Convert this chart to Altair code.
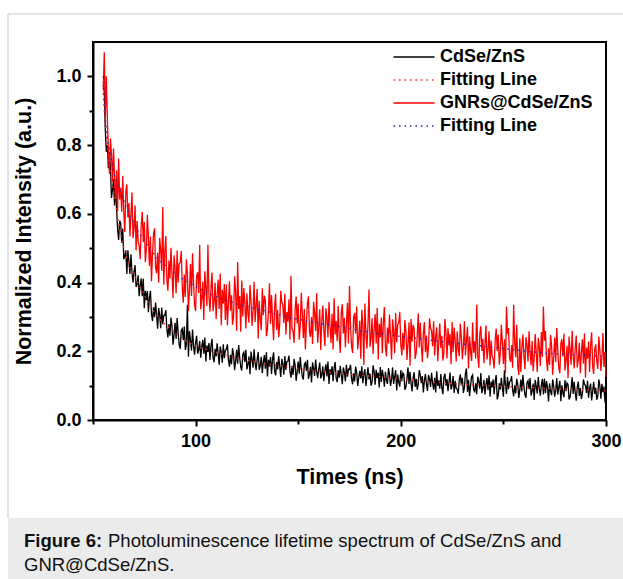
import altair as alt
import pandas as pd

# ---------------- data ----------------
times = [55 + 0.5 * i for i in range(491)]   # ns, sampled every 0.5 ns

cdse_zns = [
    0.975, 0.955, 0.842, 0.78, 0.799, 0.733, 0.78, 0.733, 0.646, 0.669,
    0.701, 0.624, 0.686, 0.613, 0.554, 0.524, 0.58, 0.572, 0.516, 0.557,
    0.468, 0.476, 0.494, 0.425, 0.494, 0.461, 0.425, 0.482, 0.43, 0.40,
    0.432, 0.451, 0.387, 0.395, 0.421, 0.36, 0.392, 0.412, 0.36, 0.411,
    0.325, 0.376, 0.349, 0.375, 0.314, 0.357, 0.376, 0.308, 0.288, 0.328,
    0.299, 0.342, 0.304, 0.266, 0.326, 0.305, 0.267, 0.327, 0.279, 0.304,
    0.305, 0.32, 0.264, 0.24, 0.279, 0.245, 0.298, 0.274, 0.219, 0.248,
    0.283, 0.236, 0.297, 0.253, 0.219, 0.207, 0.261, 0.266, 0.232, 0.272,
    0.204, 0.219, 0.335, 0.184, 0.259, 0.232, 0.202, 0.263, 0.216, 0.19,
    0.225, 0.245, 0.193, 0.204, 0.23, 0.181, 0.213, 0.233, 0.193, 0.24,
    0.17, 0.217, 0.198, 0.224, 0.175, 0.216, 0.236, 0.181, 0.168, 0.207,
    0.185, 0.223, 0.192, 0.161, 0.214, 0.198, 0.167, 0.22, 0.18, 0.203,
    0.206, 0.22, 0.174, 0.155, 0.19, 0.162, 0.209, 0.19, 0.145, 0.171,
    0.204, 0.164, 0.218, 0.181, 0.154, 0.144, 0.191, 0.197, 0.169, 0.204,
    0.147, 0.161, 0.185, 0.133, 0.199, 0.177, 0.152, 0.206, 0.166, 0.145,
    0.177, 0.198, 0.146, 0.158, 0.184, 0.136, 0.168, 0.189, 0.149, 0.197,
    0.127, 0.175, 0.156, 0.183, 0.134, 0.176, 0.197, 0.143, 0.13, 0.169,
    0.147, 0.186, 0.155, 0.125, 0.178, 0.163, 0.132, 0.186, 0.146, 0.17,
    0.172, 0.187, 0.141, 0.123, 0.158, 0.131, 0.178, 0.16, 0.114, 0.141,
    0.17, 0.135, 0.183, 0.151, 0.126, 0.118, 0.162, 0.167, 0.143, 0.175,
    0.12, 0.133, 0.155, 0.109, 0.168, 0.149, 0.128, 0.176, 0.141, 0.122,
    0.148, 0.167, 0.121, 0.132, 0.156, 0.113, 0.143, 0.162, 0.127, 0.17,
    0.105, 0.148, 0.132, 0.156, 0.113, 0.151, 0.169, 0.121, 0.11, 0.145,
    0.123, 0.158, 0.131, 0.104, 0.153, 0.139, 0.112, 0.161, 0.126, 0.148,
    0.147, 0.161, 0.12, 0.104, 0.136, 0.112, 0.155, 0.139, 0.099, 0.123,
    0.143, 0.121, 0.156, 0.107, 0.134, 0.148, 0.099, 0.126, 0.153, 0.118,
    0.135, 0.10, 0.111, 0.159, 0.141, 0.103, 0.146, 0.122, 0.138, 0.095,
    0.154, 0.111, 0.146, 0.127, 0.097, 0.14, 0.116, 0.105, 0.151, 0.132,
    0.099, 0.118, 0.153, 0.105, 0.126, 0.145, 0.086, 0.132, 0.11, 0.097,
    0.145, 0.113, 0.137, 0.132, 0.088, 0.096, 0.121, 0.153, 0.105, 0.14,
    0.107, 0.083, 0.123, 0.139, 0.096, 0.12, 0.088, 0.104, 0.145, 0.131,
    0.107, 0.128, 0.08, 0.115, 0.134, 0.104, 0.085, 0.131, 0.12, 0.096,
    0.137, 0.107, 0.088, 0.123, 0.08, 0.142, 0.099, 0.115, 0.091, 0.134,
    0.094, 0.075, 0.124, 0.135, 0.10, 0.119, 0.084, 0.111, 0.138, 0.089,
    0.10, 0.128, 0.079, 0.114, 0.092, 0.09, 0.076, 0.117, 0.133, 0.101,
    0.123, 0.079, 0.095, 0.136, 0.15, 0.082, 0.117, 0.069, 0.10, 0.126,
    0.131, 0.088, 0.083, 0.107, 0.075, 0.126, 0.113, 0.091, 0.137, 0.078,
    0.092, 0.117, 0.074, 0.104, 0.122, 0.087, 0.13, 0.068, 0.112, 0.095,
    0.118, 0.075, 0.113, 0.131, 0.06, 0.072, 0.107, 0.088, 0.123, 0.096,
    0.068, 0.145, 0.103, 0.076, 0.125, 0.09, 0.111, 0.114, 0.128, 0.087,
    0.069, 0.101, 0.077, 0.12, 0.104, 0.064, 0.088, 0.118, 0.083, 0.131,
    0.098, 0.073, 0.065, 0.108, 0.114, 0.09, 0.122, 0.071, 0.084, 0.106,
    0.058, 0.117, 0.098, 0.077, 0.125, 0.09, 0.071, 0.101, 0.12, 0.074,
    0.121, 0.078, 0.113, 0.094, 0.054, 0.107, 0.083, 0.072, 0.118, 0.099,
    0.068, 0.087, 0.122, 0.074, 0.095, 0.114, 0.055, 0.101, 0.079, 0.066,
    0.116, 0.084, 0.108, 0.103, 0.06, 0.067, 0.092, 0.124, 0.076, 0.111,
    0.08, 0.056, 0.096, 0.112, 0.07, 0.093, 0.061, 0.077, 0.118, 0.104,
    0.10, 0.079, 0.114, 0.065, 0.092, 0.106, 0.057, 0.084, 0.111, 0.076,
    0.094, 0.059, 0.07, 0.118, 0.10, 0.062, 0.105, 0.081, 0.097, 0.054,
    0.045,
]

gnrs_cdse_zns = [
    0.96, 1.07, 0.88, 1.0, 0.876, 0.782, 0.717, 0.819, 0.775, 0.695,
    0.79, 0.703, 0.644, 0.727, 0.608, 0.761, 0.642, 0.676, 0.606, 0.71,
    0.605, 0.547, 0.664, 0.686, 0.589, 0.631, 0.534, 0.598, 0.662, 0.529,
    0.558, 0.624, 0.493, 0.579, 0.519, 0.507, 0.468, 0.568, 0.606, 0.517,
    0.576, 0.459, 0.497, 0.597, 0.529, 0.448, 0.534, 0.404, 0.483, 0.542,
    0.558, 0.443, 0.427, 0.487, 0.40, 0.53, 0.493, 0.434, 0.62, 0.394,
    0.489, 0.535, 0.407, 0.376, 0.464, 0.412, 0.501, 0.428, 0.355, 0.479,
    0.441, 0.369, 0.493, 0.40, 0.454, 0.459, 0.492, 0.385, 0.341, 0.423,
    0.358, 0.468, 0.424, 0.317, 0.378, 0.454, 0.361, 0.485, 0.399, 0.334,
    0.317, 0.419, 0.43, 0.37, 0.51, 0.322, 0.353, 0.403, 0.291, 0.433,
    0.386, 0.332, 0.51, 0.362, 0.315, 0.385, 0.429, 0.317, 0.341, 0.399,
    0.294, 0.364, 0.409, 0.323, 0.426, 0.276, 0.379, 0.339, 0.396, 0.291,
    0.394, 0.276, 0.34, 0.404, 0.318, 0.363, 0.277, 0.302, 0.418, 0.372,
    0.26, 0.46, 0.323, 0.361, 0.257, 0.406, 0.301, 0.384, 0.339, 0.266,
    0.369, 0.31, 0.283, 0.393, 0.347, 0.274, 0.319, 0.402, 0.285, 0.336,
    0.381, 0.237, 0.347, 0.294, 0.261, 0.383, 0.305, 0.362, 0.349, 0.244,
    0.263, 0.32, 0.398, 0.28, 0.364, 0.291, 0.232, 0.329, 0.367, 0.262,
    0.32, 0.241, 0.28, 0.376, 0.343, 0.336, 0.283, 0.367, 0.249, 0.314,
    0.287, 0.351, 0.234, 0.42, 0.265, 0.258, 0.224, 0.321, 0.359, 0.281,
    0.339, 0.234, 0.273, 0.37, 0.311, 0.239, 0.323, 0.205, 0.283, 0.341,
    0.36, 0.255, 0.242, 0.30, 0.221, 0.344, 0.311, 0.259, 0.369, 0.225,
    0.27, 0.322, 0.204, 0.288, 0.333, 0.261, 0.215, 0.325, 0.299, 0.24,
    0.343, 0.271, 0.225, 0.309, 0.205, 0.354, 0.249, 0.288, 0.229, 0.332,
    0.241, 0.195, 0.311, 0.337, 0.252, 0.297, 0.212, 0.276, 0.341, 0.223,
    0.39, 0.274, 0.215, 0.195, 0.299, 0.311, 0.252, 0.33, 0.206, 0.238,
    0.289, 0.178, 0.321, 0.275, 0.16, 0.339, 0.254, 0.208, 0.279, 0.38,
    0.213, 0.238, 0.296, 0.192, 0.263, 0.308, 0.223, 0.326, 0.176, 0.28,
    0.24, 0.298, 0.194, 0.284, 0.329, 0.212, 0.185, 0.269, 0.223, 0.307,
    0.242, 0.176, 0.293, 0.26, 0.194, 0.311, 0.226, 0.277, 0.283, 0.315,
    0.221, 0.188, 0.253, 0.204, 0.291, 0.258, 0.175, 0.224, 0.284, 0.158,
    0.294, 0.228, 0.277, 0.266, 0.178, 0.195, 0.244, 0.31, 0.211, 0.283,
    0.219, 0.169, 0.252, 0.285, 0.197, 0.246, 0.18, 0.213, 0.296, 0.268,
    0.259, 0.215, 0.287, 0.188, 0.243, 0.27, 0.171, 0.226, 0.281, 0.21,
    0.245, 0.173, 0.195, 0.294, 0.256, 0.179, 0.267, 0.217, 0.25, 0.162,
    0.285, 0.197, 0.269, 0.23, 0.17, 0.258, 0.208, 0.186, 0.28, 0.241,
    0.177, 0.216, 0.287, 0.188, 0.232, 0.271, 0.15, 0.243, 0.199, 0.172,
    0.284, 0.196, 0.229, 0.179, 0.335, 0.19, 0.152, 0.251, 0.273, 0.201,
    0.236, 0.165, 0.22, 0.275, 0.176, 0.203, 0.258, 0.159, 0.231, 0.187,
    0.178, 0.15, 0.233, 0.266, 0.20, 0.249, 0.161, 0.194, 0.277, 0.227,
    0.163, 0.235, 0.136, 0.33, 0.251, 0.268, 0.18, 0.169, 0.218, 0.152,
    0.335, 0.227, 0.183, 0.277, 0.156, 0.131, 0.238, 0.139, 0.211, 0.249,
    0.186, 0.148, 0.241, 0.219, 0.17, 0.258, 0.197, 0.159, 0.23, 0.142,
    0.179, 0.25, 0.195, 0.14, 0.239, 0.212, 0.157, 0.256, 0.184, 0.33,
    0.231, 0.259, 0.176, 0.143, 0.209, 0.16, 0.248, 0.215, 0.132, 0.182,
    0.24, 0.169, 0.268, 0.202, 0.152, 0.136, 0.224, 0.235, 0.185, 0.251,
    0.144, 0.172, 0.216, 0.122, 0.243, 0.205, 0.161, 0.26, 0.188, 0.15,
    0.208, 0.246, 0.153, 0.175, 0.224, 0.136, 0.197, 0.235, 0.164, 0.252,
    0.123, 0.211, 0.178, 0.228, 0.14, 0.217, 0.255, 0.156, 0.134, 0.206,
    0.22, 0.171, 0.149, 0.242, 0.204, 0.143, 0.182, 0.253, 0.154, 0.198,
    0.125,
]

fit_times = [55, 56, 57, 58, 59, 60, 62, 64, 66, 68, 70, 72, 74, 76, 78, 80,
             83, 86, 90, 94, 98, 102, 106, 110, 115, 120, 125, 130, 135, 140,
             145, 150, 160, 170, 180, 190, 200, 210, 220, 230, 240, 250, 260,
             270, 280, 290, 300]
fit_cdse_zns = [0.95, 0.86, 0.79, 0.74, 0.70, 0.665, 0.59, 0.525, 0.48, 0.446,
                0.422, 0.398, 0.376, 0.352, 0.331, 0.313, 0.291, 0.273, 0.255,
                0.235, 0.221, 0.211, 0.204, 0.197, 0.188, 0.18, 0.174, 0.168,
                0.163, 0.159, 0.155, 0.15, 0.142, 0.135, 0.13, 0.126, 0.119,
                0.114, 0.108, 0.104, 0.101, 0.098, 0.095, 0.092, 0.09, 0.088,
                0.085]
fit_gnrs = [1.0, 0.87, 0.82, 0.787, 0.754, 0.72, 0.685, 0.655, 0.622, 0.597,
            0.572, 0.549, 0.531, 0.513, 0.495, 0.481, 0.461, 0.446, 0.427,
            0.41, 0.395, 0.382, 0.369, 0.359, 0.348, 0.338, 0.33, 0.322,
            0.316, 0.307, 0.299, 0.293, 0.282, 0.272, 0.26, 0.251, 0.243,
            0.236, 0.228, 0.221, 0.215, 0.208, 0.201, 0.195, 0.191, 0.188,
            0.185]

series_names = ["CdSe/ZnS", "Fitting Line", "GNRs@CdSe/ZnS", "Fitting Line "]
series_colors = ["#000000", "#ff2a2a", "#ff0000", "#2828b0"]
series_dash = [[1, 0], [1.5, 4], [1, 0], [1.5, 4]]

x_ticks = [50, 100, 150, 200, 250, 300]
y_ticks = [0.0, 0.1, 0.2, 0.3, 0.4, 0.5, 0.6, 0.7, 0.8, 0.9, 1.0]

df_black = pd.DataFrame({"t": times, "v": cdse_zns, "series": series_names[0]})
df_red = pd.DataFrame({"t": times, "v": gnrs_cdse_zns, "series": series_names[2]})
df_fit_black = pd.DataFrame({"t": fit_times, "v": fit_cdse_zns, "series": series_names[1]})
df_fit_red = pd.DataFrame({"t": fit_times, "v": fit_gnrs, "series": series_names[3]})

FONT = "Liberation Sans"

x_enc = alt.X(
    "t:Q",
    scale=alt.Scale(domain=[50, 300], nice=False, zero=False),
    axis=alt.Axis(
        title="Times (ns)", values=x_ticks,
        labelExpr="datum.value % 100 == 0 ? format(datum.value, 'd') : ''",
        tickSize={"condition": {"test": "datum.value % 100 == 0", "value": 6}, "value": 4},
        labelPadding=6, titlePadding=16, labelFlush=False, labelOverlap=False,
    ),
)
y_enc = alt.Y(
    "v:Q",
    scale=alt.Scale(domain=[0, 1.1], nice=False),
    axis=alt.Axis(
        title="Normalized Intensity (a.u.)", values=y_ticks,
        labelExpr="round(datum.value * 10) % 2 == 0 ? format(datum.value, '.1f') : ''",
        tickSize={"condition": {"test": "round(datum.value * 10) % 2 == 0", "value": 6}, "value": 4},
        labelPadding=6, titlePadding=20, labelFlush=False, labelOverlap=False,
    ),
)

legend = alt.Legend(
    orient="none", legendX=312, legendY=6, title=None,
    symbolType="M-4.1,0H4.1", symbolSize=100, symbolStrokeWidth=1.5,
    labelFont=FONT, labelFontWeight="bold", labelFontSize=18, labelColor="#000",
    labelOffset=17, rowPadding=5, padding=0, labelLimit=0,
)
color_enc = alt.Color("series:N", scale=alt.Scale(domain=series_names, range=series_colors), legend=legend)
dash_enc = alt.StrokeDash("series:N", scale=alt.Scale(domain=series_names, range=series_dash), legend=legend)


def line_layer(df, width):
    return alt.Chart(df).mark_line(strokeWidth=width).encode(
        x=x_enc, y=y_enc, color=color_enc, strokeDash=dash_enc
    )


one = pd.DataFrame({"k": [0]})
caption_band = alt.Chart(one).mark_rect(color="#ebebeb").encode(
    x=alt.value(-85), x2=alt.value(530), y=alt.value(476), y2=alt.value(537)
)
border_top = alt.Chart(one).mark_rule(color="#e2e2e2", strokeWidth=2).encode(
    x=alt.value(-85), x2=alt.value(530), y=alt.value(-28)
)
border_left = alt.Chart(one).mark_rule(color="#e2e2e2", strokeWidth=2).encode(
    x=alt.value(-85), y=alt.value(-28), y2=alt.value(476)
)
cap_bold = alt.Chart(one).mark_text(
    font=FONT, fontSize=18.5, fontWeight="bold", align="left", baseline="alphabetic", color="#111"
).encode(x=alt.value(-69), y=alt.value(504.5), text=alt.value("Figure 6:"))
cap_rest = alt.Chart(one).mark_text(
    font=FONT, fontSize=18.5, align="left", baseline="alphabetic", color="#111"
).encode(x=alt.value(15), y=alt.value(504.5),
         text=alt.value("Photoluminescence lifetime spectrum of CdSe/ZnS and"))
cap_line2 = alt.Chart(one).mark_text(
    font=FONT, fontSize=18.5, align="left", baseline="alphabetic", color="#111"
).encode(x=alt.value(-69), y=alt.value(528.5), text=alt.value("GNR@CdSe/ZnS."))

chart = alt.layer(
    caption_band, border_top, border_left, cap_bold, cap_rest, cap_line2,
    line_layer(df_black, 1.3), line_layer(df_red, 1.3),
    line_layer(df_fit_black, 1.5), line_layer(df_fit_red, 1.5),
).properties(
    width=513, height=378,
    autosize=alt.AutoSizeParams(type="none"),
    padding={"left": 93, "top": 42, "right": 17, "bottom": 159},
    background="white",
).configure_view(
    stroke="#000", strokeWidth=2
).configure_axis(
    grid=False, domainColor="#000", domainWidth=2, tickColor="#000", tickWidth=2,
    labelFont=FONT, labelFontSize=18, labelFontWeight="bold", labelColor="#000",
    titleFont=FONT, titleFontSize=21.5, titleFontWeight="bold", titleColor="#000",
)

chart.save("out.html", embed_options={"renderer": "svg", "actions": False})
